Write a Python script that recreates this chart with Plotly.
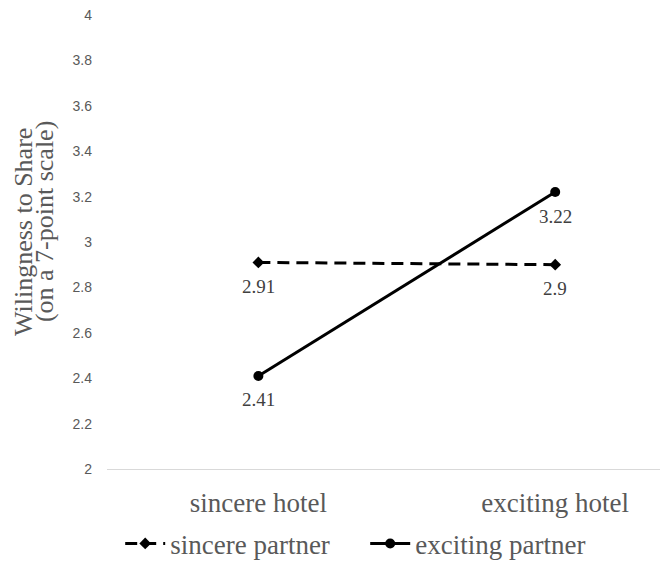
import plotly.graph_objects as go

categories = ["sincere hotel", "exciting hotel"]
sincere_partner = [2.91, 2.90]
exciting_partner = [2.41, 3.22]
series_names = ["sincere partner", "exciting partner"]
y_ticks = [2, 2.2, 2.4, 2.6, 2.8, 3, 3.2, 3.4, 3.6, 3.8, 4]
y_title = ["Wilingness to Share", "(on a 7-point scale)"]

serif = "Liberation Serif, Times New Roman, serif"
sans = "Liberation Sans, Arial, sans-serif"
grey = "#595959"

fig = go.Figure()
fig.add_trace(go.Scatter(
    x=categories, y=sincere_partner, name=series_names[0], mode="lines+markers",
    line=dict(color="black", width=3, dash="12px,7px"),
    marker=dict(symbol="diamond", size=9, color="black"),
))
fig.add_trace(go.Scatter(
    x=categories, y=exciting_partner, name=series_names[1], mode="lines+markers",
    line=dict(color="black", width=3),
    marker=dict(symbol="circle", size=10, color="black"),
))

for vals in (sincere_partner, exciting_partner):
    for c, v in zip(categories, vals):
        fig.add_annotation(x=c, y=v, text=f"{v:g}", showarrow=False, yshift=-24,
                           xanchor="center", yanchor="middle",
                           font=dict(family=serif, size=19, color="#404040"))

fig.add_annotation(xref="paper", yref="paper", x=-0.1497, y=0.522, text=y_title[0],
                   textangle=-90, showarrow=False, xanchor="center", yanchor="middle",
                   font=dict(family=serif, size=26, color=grey))
fig.add_annotation(xref="paper", yref="paper", x=-0.1123, y=0.546, text=y_title[1],
                   textangle=-90, showarrow=False, xanchor="center", yanchor="middle",
                   font=dict(family=serif, size=26, color=grey))

fig.update_layout(
    width=660, height=555,
    margin=dict(l=99, r=0, t=7, b=94),
    plot_bgcolor="white", paper_bgcolor="white",
    showlegend=True,
    legend=dict(orientation="h", xref="container", yref="container",
                x=0.17, xanchor="left", y=0.0344, yanchor="middle",
                bgcolor="rgba(0,0,0,0)",
                font=dict(family=serif, size=27, color=grey), itemwidth=40,
                entrywidth=190, tracegroupgap=0),
    xaxis=dict(type="category", range=[-0.51, 1.38], showgrid=False, showline=True,
               linecolor="#d9d9d9", linewidth=1, ticks="", ticklabelstandoff=10,
               automargin=False,
               tickfont=dict(family=serif, size=27, color=grey)),
    yaxis=dict(range=[2, 4], tickvals=y_ticks, ticktext=[f"{t:g}" for t in y_ticks],
               showgrid=False, zeroline=False, showline=False, ticks="",
               ticklabelstandoff=14, ticklabeloverflow="allow", automargin=False,
               tickfont=dict(family=sans, size=14, color=grey)),
)

fig.write_html("out.html")
